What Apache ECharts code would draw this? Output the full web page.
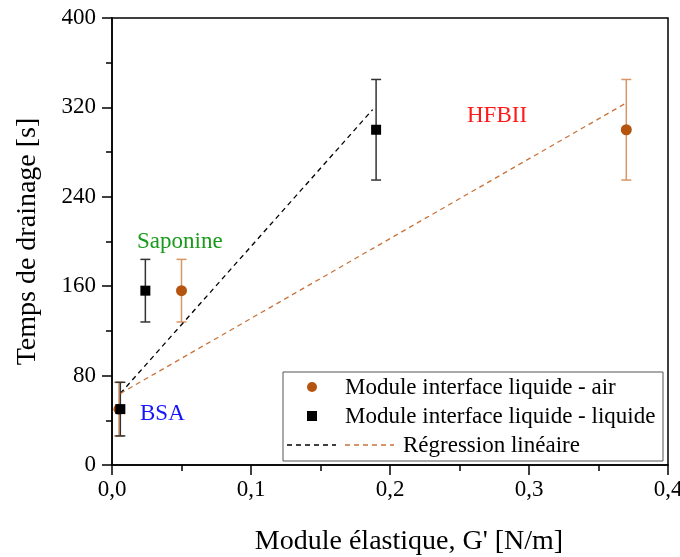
<!DOCTYPE html>
<html>
<head>
<meta charset="utf-8">
<script src="https://cdn.jsdelivr.net/npm/echarts@6/dist/echarts.min.js"></script>
<style>
  html, body { margin: 0; padding: 0; background: #fff; }
  #chart { width: 680px; height: 557px; }
</style>
</head>
<body>
<div id="chart"></div>
<script>
// interface liquide - air (brown circles)
const airX = [0.005, 0.05, 0.37];
const airY = [50, 156, 300];
const airErr = [24, 28, 45];
// interface liquide - liquide (black squares)
const liqX = [0.006, 0.024, 0.19];
const liqY = [50, 156, 300];
const liqErr = [24, 28, 45];
// linear regressions (end points)
const regLiqX = [0.006, 0.1875];
const regLiqY = [64, 318];
const regAirX = [0.006, 0.37];
const regAirY = [64, 324];

const xTicks = [0, 0.1, 0.2, 0.3, 0.4];
const yTicks = [0, 80, 160, 240, 320, 400];

const FONT = 'Liberation Serif';
const BROWN = '#b4540e';
const BROWN_ERR = '#d99565';

let chart = echarts.init(document.getElementById('chart'));

function errData(xs, ys, es) {
    return xs.map((x, i) => [x, ys[i] - es[i], ys[i] + es[i]]);
}

function errRender(color) {
    return function (params, api) {
        const x = api.value(0);
        const lo = api.coord([x, api.value(1)]);
        const hi = api.coord([x, api.value(2)]);
        const w = 5;
        const style = { stroke: color, lineWidth: 1.5 };
        return {
            type: 'group',
            children: [
                { type: 'line', shape: { x1: hi[0], y1: hi[1], x2: lo[0], y2: lo[1] }, style: style },
                { type: 'line', shape: { x1: hi[0] - w, y1: hi[1], x2: hi[0] + w, y2: hi[1] }, style: style },
                { type: 'line', shape: { x1: lo[0] - w, y1: lo[1], x2: lo[0] + w, y2: lo[1] }, style: style }
            ]
        };
    };
}

const zip = (xs, ys) => xs.map((x, i) => [x, ys[i]]);

let option = {
    animation: false,
    backgroundColor: '#fff',
    textStyle: { fontFamily: FONT },
    grid: {
        left: 112, right: 12, top: 18, bottom: 92,
        outerBoundsMode: 'none', containLabel: false,
        show: true, borderColor: '#000', borderWidth: 1.5
    },
    xAxis: {
        type: 'value',
        min: xTicks[0],
        max: xTicks[xTicks.length - 1],
        interval: 0.1,
        name: "Module élastique, G' [N/m]",
        nameLocation: 'middle',
        nameGap: 63,
        nameTextStyle: { fontFamily: FONT, fontSize: 28, color: '#000', padding: [0, 0, 0, 38] },
        axisLine: { lineStyle: { color: '#000', width: 1.5 } },
        axisTick: { length: 10, lineStyle: { color: '#000', width: 1.5 } },
        minorTick: { show: true, splitNumber: 2, length: 6, lineStyle: { color: '#000', width: 1.5 } },
        splitLine: { show: false },
        axisLabel: {
            fontFamily: FONT, fontSize: 23, color: '#000', margin: 13,
            formatter: v => v.toFixed(1).replace('.', ',')
        }
    },
    yAxis: {
        type: 'value',
        min: yTicks[0],
        max: yTicks[yTicks.length - 1],
        interval: 80,
        name: 'Temps de drainage [s]',
        nameLocation: 'middle',
        nameGap: 70,
        nameTextStyle: { fontFamily: FONT, fontSize: 28, color: '#000' },
        axisLine: { lineStyle: { color: '#000', width: 1.5 } },
        axisTick: { length: 10, lineStyle: { color: '#000', width: 1.5 } },
        minorTick: { show: true, splitNumber: 2, length: 6, lineStyle: { color: '#000', width: 1.5 } },
        splitLine: { show: false },
        axisLabel: { fontFamily: FONT, fontSize: 23, color: '#000', margin: 16 }
    },
    series: [
        {
            type: 'custom',
            renderItem: errRender(BROWN_ERR),
            data: errData(airX, airY, airErr),
            z: 2
        },
        {
            name: 'Module interface liquide - air',
            type: 'scatter',
            symbol: 'circle',
            symbolSize: 11,
            itemStyle: { color: BROWN, opacity: 1 },
            data: zip(airX, airY),
            z: 3
        },
        {
            type: 'custom',
            renderItem: errRender('#333'),
            data: errData(liqX, liqY, liqErr),
            z: 4
        },
        {
            name: 'Module interface liquide - liquide',
            type: 'scatter',
            symbol: 'rect',
            symbolSize: 10,
            itemStyle: { color: '#000', opacity: 1 },
            data: zip(liqX, liqY),
            z: 5
        },
        {
            type: 'line',
            symbol: 'none',
            lineStyle: { color: '#000', width: 1.3, type: [5, 4] },
            data: zip(regLiqX, regLiqY),
            z: 6
        },
        {
            type: 'line',
            symbol: 'none',
            lineStyle: { color: '#c8733a', width: 1.3, type: [5, 4] },
            data: zip(regAirX, regAirY),
            z: 6
        }
    ],
    graphic: [
        // annotations
        { type: 'text', left: 137, top: 230, style: { text: 'Saponine', fontFamily: FONT, fontSize: 23, fill: '#1a9a1a' }, z: 10 },
        { type: 'text', left: 140, top: 402, style: { text: 'BSA', fontFamily: FONT, fontSize: 23, fill: '#1515ff' }, z: 10 },
        { type: 'text', left: 467, top: 104, style: { text: 'HFBII', fontFamily: FONT, fontSize: 23, fill: '#ff1a1a' }, z: 10 },
        // legend box
        { type: 'rect', shape: { x: 283, y: 372, width: 380, height: 89 }, style: { fill: '#fff', stroke: '#555', lineWidth: 1 }, z: 20 },
        { type: 'circle', shape: { cx: 312, cy: 387, r: 5 }, style: { fill: BROWN }, z: 21 },
        { type: 'text', left: 345, top: 376, style: { text: 'Module interface liquide - air', fontFamily: FONT, fontSize: 23, fill: '#000' }, z: 21 },
        { type: 'rect', shape: { x: 307, y: 411, width: 10, height: 10 }, style: { fill: '#000' }, z: 21 },
        { type: 'text', left: 345, top: 405, style: { text: 'Module interface liquide - liquide', fontFamily: FONT, fontSize: 23, fill: '#000' }, z: 21 },
        { type: 'line', shape: { x1: 287, y1: 445, x2: 336, y2: 445 }, style: { stroke: '#000', lineWidth: 1.3, lineDash: [5, 4] }, z: 21 },
        { type: 'line', shape: { x1: 345, y1: 445, x2: 394, y2: 445 }, style: { stroke: '#c8733a', lineWidth: 1.3, lineDash: [5, 4] }, z: 21 },
        { type: 'text', left: 403, top: 434, style: { text: 'Régression linéaire', fontFamily: FONT, fontSize: 23, fill: '#000' }, z: 21 }
    ]
};

chart.setOption(option);
</script>
</body>
</html>
